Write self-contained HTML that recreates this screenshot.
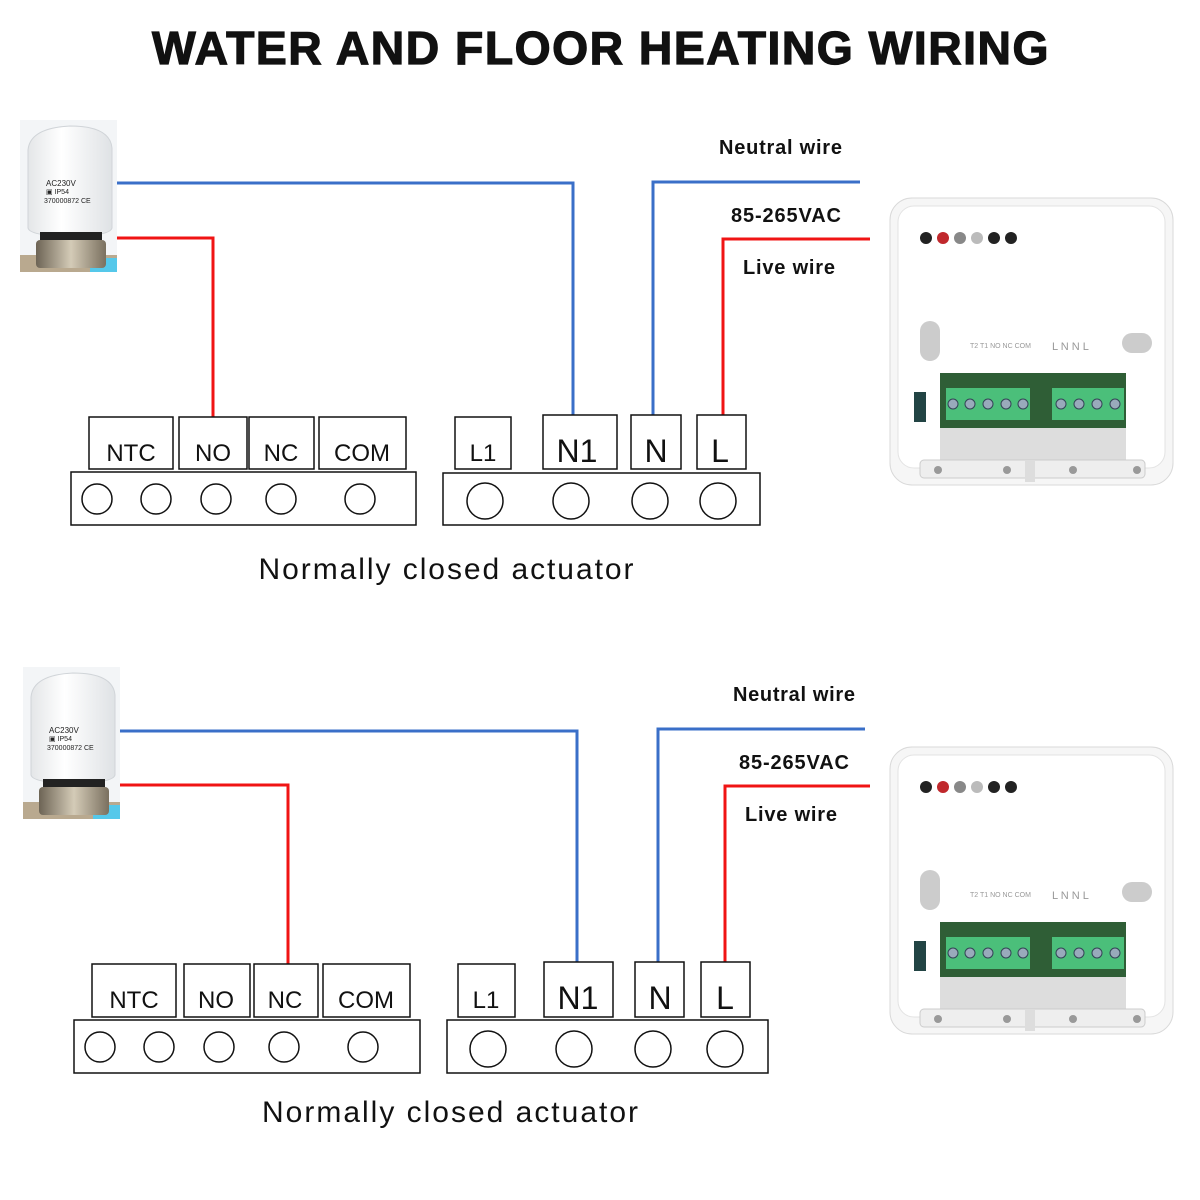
<!DOCTYPE html>
<html><head><meta charset="utf-8"><style>
html,body{margin:0;padding:0;background:#fff}
svg{display:block}
.t{font-family:"Liberation Sans",sans-serif}
</style></head><body>
<svg width="1200" height="1200" viewBox="0 0 1200 1200" xmlns="http://www.w3.org/2000/svg">
<defs>
<linearGradient id="act" x1="0" x2="1"><stop offset="0" stop-color="#e4e6e8"/><stop offset="0.4" stop-color="#fff"/><stop offset="1" stop-color="#dfe2e5"/></linearGradient>
<linearGradient id="nut" x1="0" x2="1"><stop offset="0" stop-color="#6d6455"/><stop offset="0.5" stop-color="#d4cbb7"/><stop offset="1" stop-color="#7a705f"/></linearGradient>
<g id="actuator">
<rect x="0" y="0" width="97" height="152" fill="#f3f5f7"/>
<rect x="0" y="135" width="97" height="17" fill="#b9a98f"/>
<rect x="70" y="138" width="27" height="14" fill="#55c8ea"/>
<path d="M8 30 Q10 8 50 6 Q90 6 92 28 L92 108 Q90 116 50 116 Q10 116 8 108 Z" fill="url(#act)" stroke="#d0d4d8"/>
<rect x="20" y="112" width="62" height="10" fill="#222"/>
<rect x="16" y="120" width="70" height="28" rx="4" fill="url(#nut)"/>
<text x="26" y="66" font-size="8" class="t" fill="#222">AC230V</text>
<text x="26" y="74" font-size="7" class="t" fill="#222">▣ IP54</text>
<text x="24" y="83" font-size="7" class="t" fill="#222">370000872 CE</text>
</g>
<g id="thermo">
<rect x="0" y="0" width="283" height="287" rx="22" fill="#f6f6f6" stroke="#d9d9d9"/>
<rect x="8" y="8" width="267" height="262" rx="16" fill="#fff" stroke="#e3e3e3"/>
<circle cx="36" cy="40" r="6" fill="#222"/><circle cx="53" cy="40" r="6" fill="#c0282c"/><circle cx="70" cy="40" r="6" fill="#888"/><circle cx="87" cy="40" r="6" fill="#bbb"/><circle cx="104" cy="40" r="6" fill="#222"/><circle cx="121" cy="40" r="6" fill="#222"/>
<rect x="30" y="123" width="20" height="40" rx="10" fill="#ccc"/>
<rect x="232" y="135" width="30" height="20" rx="10" fill="#ccc"/>
<text x="80" y="150" font-size="7" class="t" fill="#999">T2 T1 NO NC COM</text>
<text x="162" y="152" font-size="11" class="t" fill="#999">L N N L</text>
<rect x="50" y="175" width="186" height="90" fill="#ddd"/>
<rect x="50" y="175" width="186" height="55" fill="#2f5e36"/>
<rect x="56" y="190" width="84" height="32" fill="#4bbf7a"/>
<rect x="162" y="190" width="72" height="32" fill="#4bbf7a"/>
<g fill="#9ab" stroke="#345"><circle cx="63" cy="206" r="5"/><circle cx="80" cy="206" r="5"/><circle cx="98" cy="206" r="5"/><circle cx="116" cy="206" r="5"/><circle cx="133" cy="206" r="5"/><circle cx="171" cy="206" r="5"/><circle cx="189" cy="206" r="5"/><circle cx="207" cy="206" r="5"/><circle cx="225" cy="206" r="5"/></g>
<rect x="24" y="194" width="12" height="30" fill="#244"/>
<rect x="30" y="262" width="225" height="18" rx="4" fill="#eee" stroke="#ccc"/>
<g fill="#999"><circle cx="48" cy="272" r="4"/><circle cx="117" cy="272" r="4"/><circle cx="183" cy="272" r="4"/><circle cx="247" cy="272" r="4"/></g>
<rect x="135" y="262" width="10" height="22" fill="#ddd"/>
</g>
</defs>

<text x="601" y="64" text-anchor="middle" font-size="46" font-weight="bold" class="t" fill="#111" stroke="#111" stroke-width="1.2" letter-spacing="1.5" textLength="898" lengthAdjust="spacingAndGlyphs">WATER AND FLOOR HEATING WIRING</text>

<!-- TOP -->
<use href="#actuator" x="20" y="120"/>
<use href="#thermo" x="890" y="198"/>
<g fill="none" stroke-width="3">
<polyline points="117,183 573,183 573,415" stroke="#3a6fc8"/>
<polyline points="117,238 213,238 213,417" stroke="#f01414"/>
<polyline points="860,182 653,182 653,415" stroke="#3a6fc8"/>
<polyline points="870,239 723,239 723,415" stroke="#f01414"/>
</g>
<g class="t" font-weight="bold" font-size="20" fill="#111">
<text x="719" y="154" textLength="123">Neutral wire</text><text x="731" y="222" textLength="110">85-265VAC</text><text x="743" y="274" textLength="92">Live wire</text></g>
<g fill="#fff" stroke="#111" stroke-width="1.5">
<rect x="89" y="417" width="84" height="52"/><rect x="179" y="417" width="68" height="52"/><rect x="249" y="417" width="65" height="52"/><rect x="319" y="417" width="87" height="52"/>
<rect x="71" y="472" width="345" height="53"/>
<circle cx="97" cy="499" r="15"/><circle cx="156" cy="499" r="15"/><circle cx="216" cy="499" r="15"/><circle cx="281" cy="499" r="15"/><circle cx="360" cy="499" r="15"/>
<rect x="455" y="417" width="56" height="52"/><rect x="543" y="415" width="74" height="54"/><rect x="631" y="415" width="50" height="54"/><rect x="697" y="415" width="49" height="54"/>
<rect x="443" y="473" width="317" height="52"/>
<circle cx="485" cy="501" r="18"/><circle cx="571" cy="501" r="18"/><circle cx="650" cy="501" r="18"/><circle cx="718" cy="501" r="18"/>
</g>
<g class="t" fill="#111" text-anchor="middle">
<text x="131" y="461" font-size="24">NTC</text><text x="213" y="461" font-size="24">NO</text><text x="281" y="461" font-size="24">NC</text><text x="362" y="461" font-size="24">COM</text>
<text x="483" y="461" font-size="24">L1</text><text x="577" y="462" font-size="32">N1</text><text x="656" y="462" font-size="32">N</text><text x="720" y="462" font-size="32">L</text>
<text x="446" y="579" font-size="30" textLength="375">Normally closed actuator</text>
</g>

<!-- BOTTOM -->
<use href="#actuator" x="23" y="667"/>
<use href="#thermo" x="890" y="747"/>
<g fill="none" stroke-width="3">
<polyline points="120,731 577,731 577,963" stroke="#3a6fc8"/>
<polyline points="120,785 288,785 288,965" stroke="#f01414"/>
<polyline points="865,729 658,729 658,962" stroke="#3a6fc8"/>
<polyline points="870,786 725,786 725,962" stroke="#f01414"/>
</g>
<g class="t" font-weight="bold" font-size="20" fill="#111">
<text x="733" y="701" textLength="122">Neutral wire</text><text x="739" y="769" textLength="110">85-265VAC</text><text x="745" y="821" textLength="92">Live wire</text></g>
<g fill="#fff" stroke="#111" stroke-width="1.5">
<rect x="92" y="964" width="84" height="53"/><rect x="184" y="964" width="66" height="53"/><rect x="254" y="964" width="64" height="53"/><rect x="323" y="964" width="87" height="53"/>
<rect x="74" y="1020" width="346" height="53"/>
<circle cx="100" cy="1047" r="15"/><circle cx="159" cy="1047" r="15"/><circle cx="219" cy="1047" r="15"/><circle cx="284" cy="1047" r="15"/><circle cx="363" cy="1047" r="15"/>
<rect x="458" y="964" width="57" height="53"/><rect x="544" y="962" width="69" height="55"/><rect x="635" y="962" width="49" height="55"/><rect x="701" y="962" width="49" height="55"/>
<rect x="447" y="1020" width="321" height="53"/>
<circle cx="488" cy="1049" r="18"/><circle cx="574" cy="1049" r="18"/><circle cx="653" cy="1049" r="18"/><circle cx="725" cy="1049" r="18"/>
</g>
<g class="t" fill="#111" text-anchor="middle">
<text x="134" y="1008" font-size="24">NTC</text><text x="216" y="1008" font-size="24">NO</text><text x="285" y="1008" font-size="24">NC</text><text x="366" y="1008" font-size="24">COM</text>
<text x="486" y="1008" font-size="24">L1</text><text x="578" y="1009" font-size="32">N1</text><text x="660" y="1009" font-size="32">N</text><text x="725" y="1009" font-size="32">L</text>
<text x="450" y="1122" font-size="30" textLength="376">Normally closed actuator</text>
</g>
</svg>
</body></html>
